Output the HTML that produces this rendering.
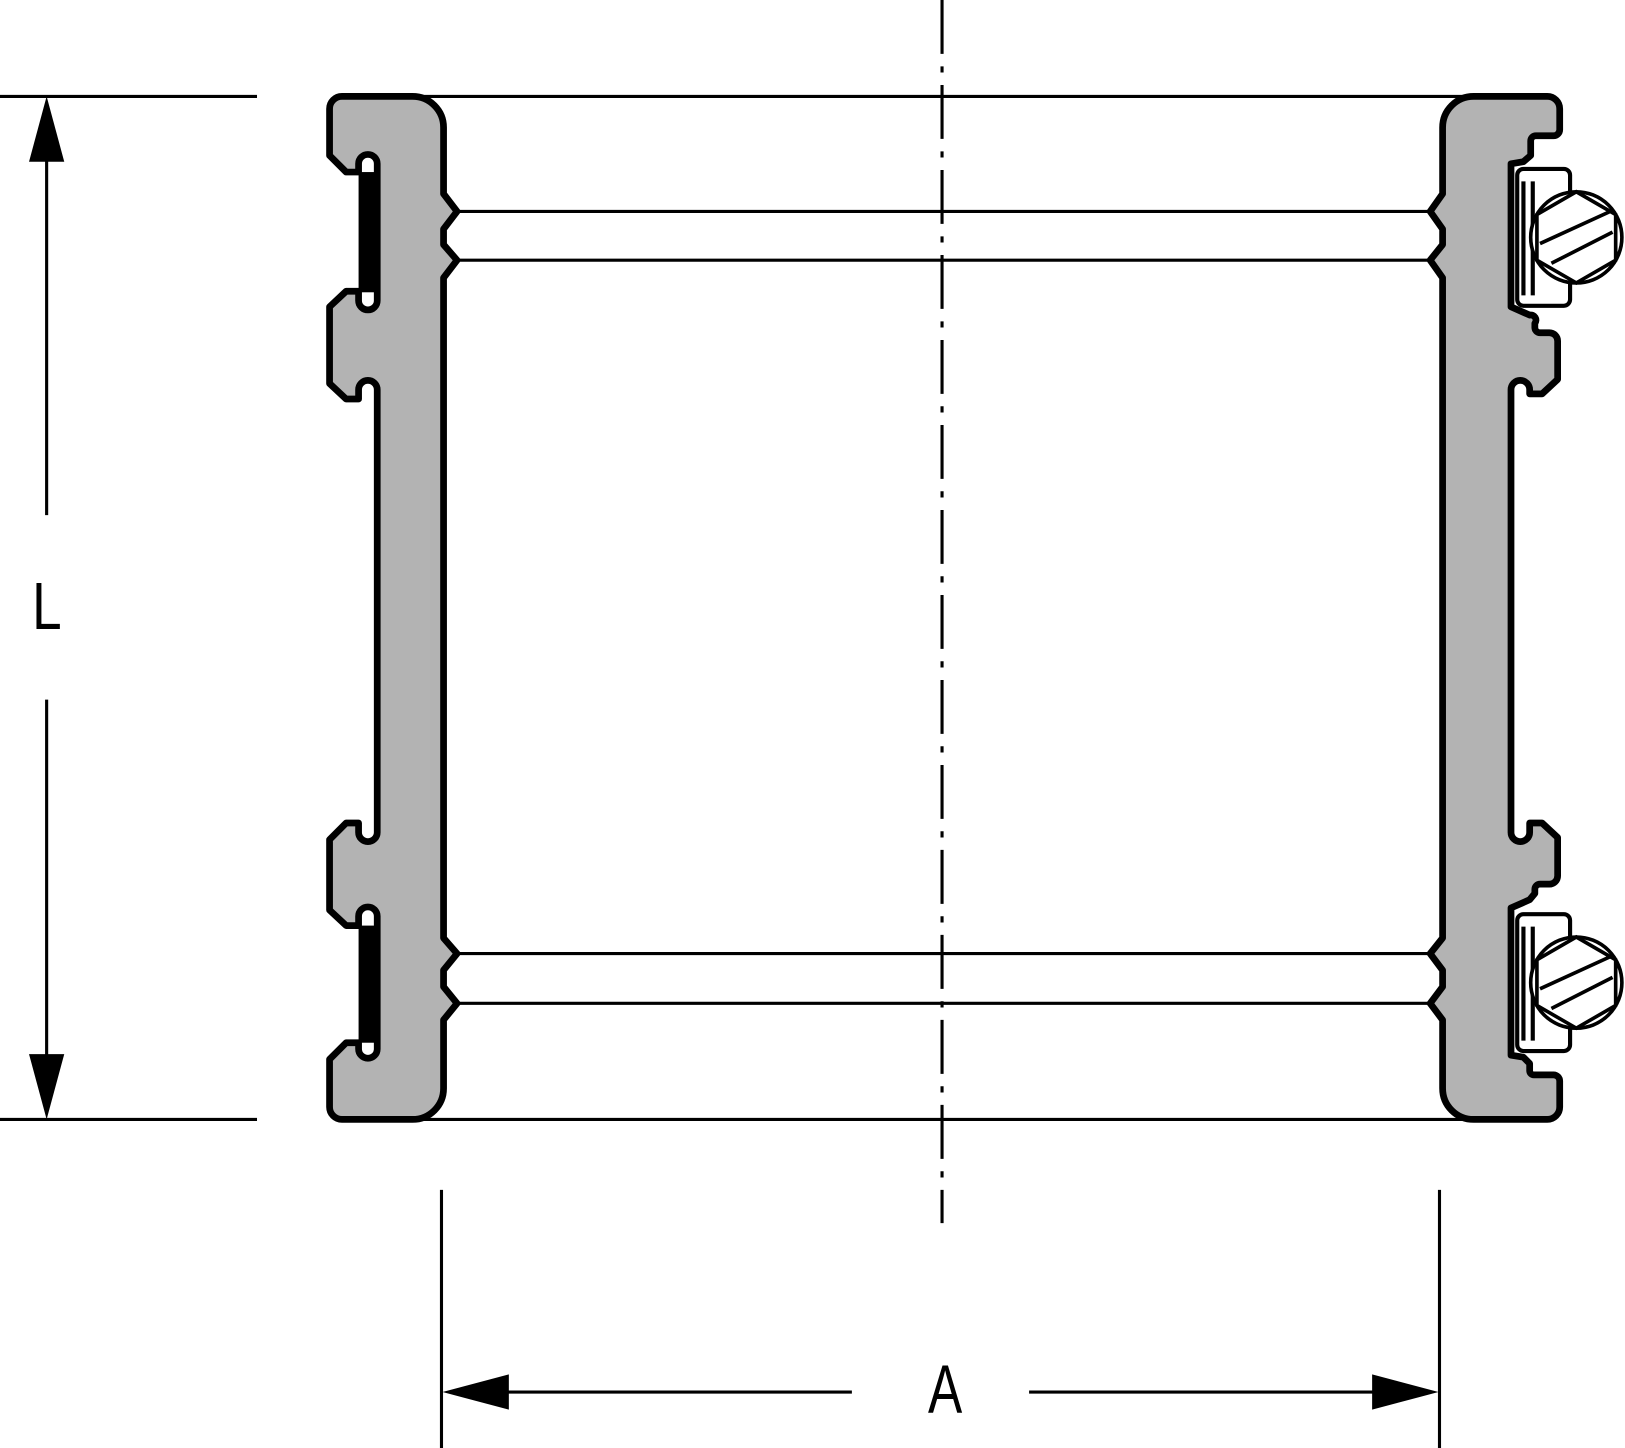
<!DOCTYPE html>
<html><head><meta charset="utf-8"><style>
html,body{margin:0;padding:0;background:#fff;}
svg{display:block;}
</style></head><body>
<svg width="1625" height="1448" viewBox="0 0 1568 1397" preserveAspectRatio="none" xmlns="http://www.w3.org/2000/svg">
<rect width="1568" height="1397" fill="#fff"/>
<line x1="909" y1="0" x2="909" y2="1180" stroke="#000" stroke-width="3" stroke-dasharray="52,12,6,12"/>
<line x1="0" y1="93" x2="248" y2="93" stroke="#000" stroke-width="3"/>
<line x1="0" y1="1080" x2="248" y2="1080" stroke="#000" stroke-width="3"/>
<line x1="398" y1="93" x2="1422" y2="93" stroke="#000" stroke-width="3"/>
<line x1="398" y1="1080" x2="1422" y2="1080" stroke="#000" stroke-width="3"/>
<line x1="441" y1="204" x2="1380" y2="204" stroke="#000" stroke-width="3"/>
<line x1="441" y1="251" x2="1380" y2="251" stroke="#000" stroke-width="3"/>
<line x1="441" y1="920" x2="1380" y2="920" stroke="#000" stroke-width="3"/>
<line x1="441" y1="968" x2="1380" y2="968" stroke="#000" stroke-width="3"/>
<path d="M330,93 H398 A30,30 0 0 1 428,123 V187 L441,204 L428,221 V236 L441,251 L428,268 V905 L441,920 L428,936 V952 L441,968 L428,984 V1050 A30,30 0 0 1 398,1080 H330 A12,12 0 0 1 318,1068 V1022 L334,1006 H346 V1012 A9,9 0 0 0 364,1012 V884 A9,9 0 0 0 346,884 V893 H334 L318,878 V810 L334,794 H346 V803 A9,9 0 0 0 364,803 V376 A9,9 0 0 0 346,376 V385 H334 L318,370 V296 L334,281 H346 V290 A9,9 0 0 0 364,290 V158 A9,9 0 0 0 346,158 V166 H334 L318,150 V105 A12,12 0 0 1 330,93 Z" fill="#b3b3b3" stroke="#000" stroke-width="6.5" stroke-linejoin="round"/>
<rect x="346" y="166" width="19" height="116" fill="#000"/>
<rect x="346" y="893" width="19" height="113" fill="#000"/>
<path d="M1422,93 H1493 A12,12 0 0 1 1505,105 V125 A6,6 0 0 1 1499,131 H1482 A5,5 0 0 0 1477,136 V150 L1470,156 L1458,158 V296 L1476,304 A5,5 0 0 1 1481,312 V316 A5,5 0 0 0 1486,321 H1495 A8,8 0 0 1 1503,329 V366 L1488,380 H1476 V376 A9,9 0 0 0 1458,376 V803 A9,9 0 0 0 1476,803 V794 H1488 L1503,808 V845 A8,8 0 0 1 1495,853 H1486 A5,5 0 0 0 1481,858 V862 L1476,868 L1458,876 V1018 L1470,1020 L1476,1026 V1033 A4,4 0 0 0 1480,1037 H1499 A6,6 0 0 1 1505,1043 V1068 A12,12 0 0 1 1493,1080 H1422 A30,30 0 0 1 1392,1050 V984 L1380,968 L1392,952 V936 L1380,920 L1392,905 V268 L1380,251 L1392,236 V221 L1380,204 L1392,187 V123 A30,30 0 0 1 1422,93 Z" fill="#b3b3b3" stroke="#000" stroke-width="6.5" stroke-linejoin="round"/>
<g id="bolt" stroke="#000" fill="#fff">
<rect x="1464" y="163" width="51" height="132" rx="6" stroke-width="4"/>
<line x1="1470" y1="175" x2="1470" y2="285" stroke-width="4"/>
<line x1="1479" y1="175" x2="1479" y2="285" stroke-width="4"/>
<circle cx="1521" cy="229" r="44" stroke-width="3.5"/>
<polygon points="1521,185 1559,207 1559,251 1521,273 1483,251 1483,207" stroke-width="3.5"/>
<line x1="1486" y1="235" x2="1556" y2="203" stroke-width="3.5"/>
<line x1="1497" y1="254" x2="1556" y2="224" stroke-width="3.5"/>
</g>
<use href="#bolt" transform="translate(0,719)"/>
<line x1="45" y1="150" x2="45" y2="497" stroke="#000" stroke-width="3"/>
<line x1="45" y1="675" x2="45" y2="1020" stroke="#000" stroke-width="3"/>
<polygon points="45,93 28,156 62,156" fill="#000"/>
<polygon points="45,1080 28,1017 62,1017" fill="#000"/>
<text x="0" y="0" transform="translate(31,607) scale(0.8,1)" font-family="Liberation Sans, sans-serif" font-size="64">L</text>
<line x1="426" y1="1148" x2="426" y2="1397" stroke="#000" stroke-width="3"/>
<line x1="1389" y1="1148" x2="1389" y2="1397" stroke="#000" stroke-width="3"/>
<line x1="480" y1="1343" x2="822" y2="1343" stroke="#000" stroke-width="3"/>
<line x1="993" y1="1343" x2="1335" y2="1343" stroke="#000" stroke-width="3"/>
<polygon points="427,1343 491,1326 491,1360" fill="#000"/>
<polygon points="1388,1343 1324,1326 1324,1360" fill="#000"/>
<text x="0" y="0" transform="translate(912,1363) scale(0.75,1)" text-anchor="middle" font-family="Liberation Sans, sans-serif" font-size="66">A</text>
</svg>
</body></html>
